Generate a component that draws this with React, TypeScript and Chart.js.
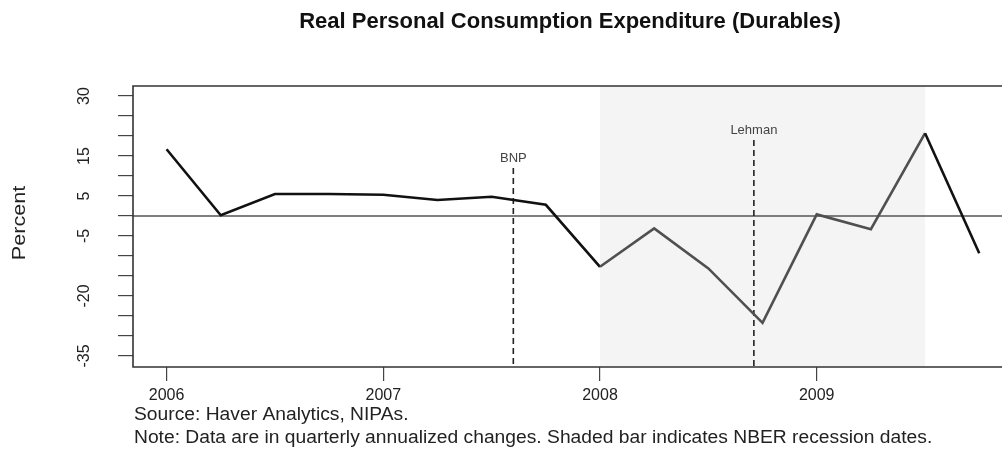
import React, { useEffect, useRef } from 'react';
import { Chart, registerables } from 'chart.js';

Chart.register(...registerables);

// ---- Data ----
const periods = [2006, 2006.25, 2006.5, 2006.75, 2007, 2007.25, 2007.5, 2007.75, 2008, 2008.25, 2008.5, 2008.75, 2009, 2009.25, 2009.5, 2009.75];
const durables = [16.7, 0.2, 5.5, 5.5, 5.3, 4.0, 4.8, 2.8, -12.7, -3.1, -13.1, -26.7, 0.4, -3.3, 20.7, -9.3];
const yearTicks = [2006, 2007, 2008, 2009];
const yTickValues = [-35, -30, -25, -20, -15, -10, -5, 0, 5, 10, 15, 20, 25, 30];
const yTickLabels = [30, 15, 5, -5, -20, -35];
const eventNames = ['BNP', 'Lehman'];
const eventDates = [2007.6, 2008.71];
const recession = [2008.0, 2009.5];

const titleText = 'Real Personal Consumption Expenditure (Durables)';
const yTitle = 'Percent';
const sourceText = 'Source: Haver Analytics, NIPAs.';
const noteText = 'Note: Data are in quarterly annualized changes. Shaded bar indicates NBER recession dates.';

const FONT = '"Liberation Sans", Arial, Helvetica, sans-serif';
const eventLabelLevels = [14.5, 21.5];

function stretchedText(ctx: CanvasRenderingContext2D, text: string, x: number, y: number, sx: number, rotate = false) {
  ctx.save();
  ctx.translate(x, y);
  if (rotate) ctx.rotate(-Math.PI / 2);
  ctx.scale(sx, 1);
  ctx.fillText(text, 0, 0);
  ctx.restore();
}

const decorPlugin = {
  id: 'decor',
  beforeDatasetsDraw(chart: any) {
    const { ctx, chartArea: a, scales } = chart;
    const xs = scales.x;
    const ys = scales.y;
    ctx.save();
    // recession shading
    const rx0 = xs.getPixelForValue(recession[0]);
    const rx1 = xs.getPixelForValue(recession[1]);
    ctx.fillStyle = '#f4f4f4';
    ctx.fillRect(rx0, a.top, rx1 - rx0, a.bottom - a.top);
    // zero line
    const y0 = ys.getPixelForValue(0);
    ctx.strokeStyle = '#555';
    ctx.lineWidth = 1.3;
    ctx.beginPath();
    ctx.moveTo(a.left, y0);
    ctx.lineTo(a.right, y0);
    ctx.stroke();
    // event lines
    eventNames.forEach((name, i) => {
      const x = xs.getPixelForValue(eventDates[i]);
      const ly = ys.getPixelForValue(eventLabelLevels[i]);
      ctx.fillStyle = '#444';
      ctx.font = `13px ${FONT}`;
      ctx.textAlign = 'center';
      ctx.textBaseline = 'middle';
      ctx.fillText(name, x, ly);
      ctx.strokeStyle = '#222';
      ctx.lineWidth = 1.6;
      ctx.setLineDash([6, 4]);
      ctx.beginPath();
      ctx.moveTo(x, ly + 10);
      ctx.lineTo(x, a.bottom);
      ctx.stroke();
      ctx.setLineDash([]);
    });
    ctx.restore();
  },
  afterDraw(chart: any) {
    const { ctx, chartArea: a, scales } = chart;
    const ys = scales.y;
    ctx.save();
    // box (right side clipped)
    ctx.strokeStyle = '#333';
    ctx.lineWidth = 1.6;
    ctx.beginPath();
    ctx.moveTo(a.right + 2, a.top);
    ctx.lineTo(a.left, a.top);
    ctx.lineTo(a.left, a.bottom);
    ctx.lineTo(a.right + 2, a.bottom);
    ctx.stroke();
    // title
    ctx.fillStyle = '#111';
    ctx.font = `bold 22px ${FONT}`;
    ctx.textAlign = 'center';
    ctx.textBaseline = 'alphabetic';
    ctx.fillText(titleText, 570, 28);
    // y tick labels, rotated
    ctx.font = `16px ${FONT}`;
    ctx.fillStyle = '#222';
    yTickLabels.forEach((v) => {
      const y = ys.getPixelForValue(v);
      ctx.save();
      ctx.translate(85, y);
      ctx.rotate(-Math.PI / 2);
      ctx.textAlign = 'center';
      ctx.textBaseline = 'middle';
      ctx.fillText(String(v), 0, 0);
      ctx.restore();
    });
    // y title
    ctx.font = `18px ${FONT}`;
    ctx.textAlign = 'center';
    ctx.textBaseline = 'middle';
    stretchedText(ctx, yTitle, 20, 223, 1.2, true);
    // footnotes
    ctx.font = `17.5px ${FONT}`;
    ctx.textAlign = 'left';
    ctx.textBaseline = 'alphabetic';
    stretchedText(ctx, sourceText, 134, 420, 1.1);
    stretchedText(ctx, noteText, 134, 443, 1.1);
    ctx.restore();
  },
};

export default function App() {
  const ref = useRef<HTMLCanvasElement | null>(null);
  useEffect(() => {
    if (!ref.current) return;
    const chart = new Chart(ref.current, {
      type: 'line',
      data: {
        datasets: [
          {
            data: periods.map((p, i) => ({ x: p, y: durables[i] })),
            borderColor: '#111',
            borderWidth: 2.6,
            pointRadius: 0,
            tension: 0,
            segment: {
              borderColor: (c: any) =>
                c.p0.parsed.x >= recession[0] && c.p1.parsed.x <= recession[1] ? '#505050' : '#111',
            },
          },
        ],
      },
      options: {
        responsive: false,
        animation: false,
        layout: { padding: { top: 86, right: 0, left: 0, bottom: 0 } },
        plugins: { legend: { display: false }, tooltip: { enabled: false }, title: { display: false } },
        scales: {
          x: {
            type: 'linear',
            min: 2005.845,
            max: 2009.855,
            afterBuildTicks: (s: any) => {
              s.ticks = yearTicks.map((v) => ({ value: v }));
            },
            afterFit: (s: any) => {
              s.height = 90;
            },
            border: { display: false },
            grid: { drawOnChartArea: false, drawTicks: true, tickLength: 14, color: '#444', lineWidth: 1.2 },
            ticks: {
              color: '#222',
              font: { family: FONT, size: 16 },
              padding: 5,
              maxRotation: 0,
              callback: (v: any) => String(v),
            },
          },
          y: {
            type: 'linear',
            min: -37.75,
            max: 32.5,
            afterBuildTicks: (s: any) => {
              s.ticks = yTickValues.map((v) => ({ value: v }));
            },
            afterFit: (s: any) => {
              s.width = 133;
            },
            border: { display: false },
            grid: { drawOnChartArea: false, drawTicks: true, tickLength: 15, color: '#444', lineWidth: 1.2 },
            ticks: { display: false },
          },
        },
      },
      plugins: [decorPlugin],
    });
    return () => chart.destroy();
  }, []);
  return (
    <div style={{ position: 'absolute', left: 0, top: 0, width: 1002, height: 457, background: '#fff' }}>
      <canvas ref={ref} width={1002} height={457} style={{ display: 'block' }} />
    </div>
  );
}
